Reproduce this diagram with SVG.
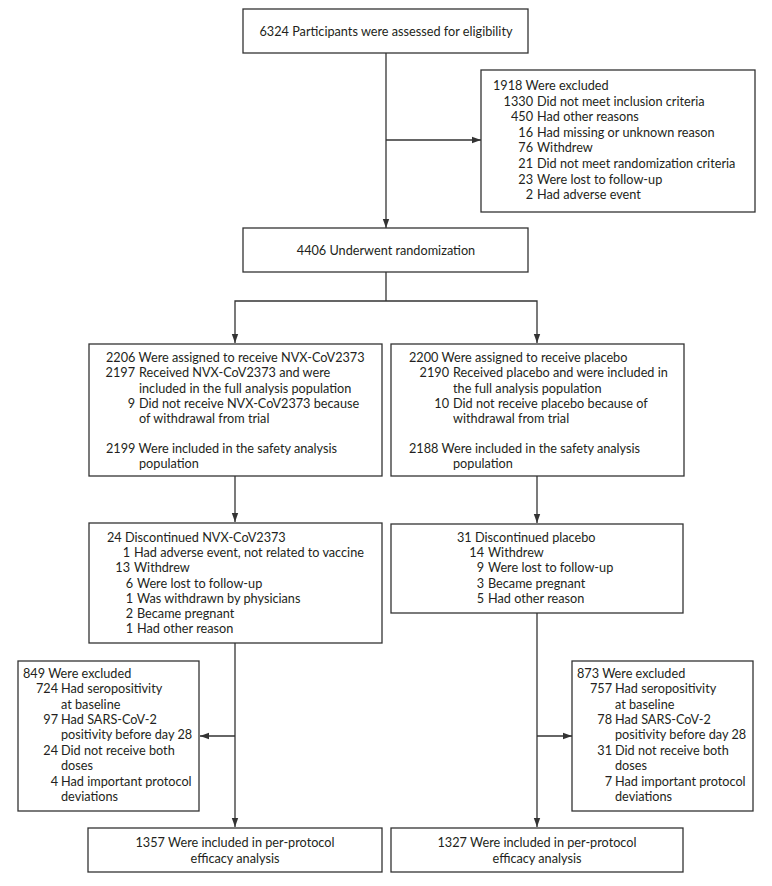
<svg xmlns="http://www.w3.org/2000/svg" width="772" height="886" viewBox="0 0 772 886">
<defs>
<style>
.box{fill:#ffffff;stroke:#333333;stroke-width:1.3}
.ln{fill:none;stroke:#333333;stroke-width:1.3}
text{font-family:Lato,"Open Sans","Liberation Sans",sans-serif;font-size:12.7px;fill:#231f20}
.c{text-anchor:middle}
.e{text-anchor:end}
</style>
<marker id="ah" markerUnits="userSpaceOnUse" markerWidth="10" markerHeight="8" refX="9" refY="4" orient="auto">
<path d="M0,0.8 L9,4 L0,7.2 Z" fill="#333333"/>
</marker>
</defs>
<rect width="772" height="886" fill="#ffffff"/>
<g id="connectors">
<path class="ln" d="M386,53 V228" marker-end="url(#ah)"/>
<path class="ln" d="M386,140 H481" marker-end="url(#ah)"/>
<path class="ln" d="M386,272 V301"/>
<path class="ln" d="M386,301 H235 V343" marker-end="url(#ah)"/>
<path class="ln" d="M386,301 H537 V343" marker-end="url(#ah)"/>
<path class="ln" d="M235,476 V522" marker-end="url(#ah)"/>
<path class="ln" d="M537,476 V523" marker-end="url(#ah)"/>
<path class="ln" d="M235,643 V827" marker-end="url(#ah)"/>
<path class="ln" d="M235,736 H200" marker-end="url(#ah)"/>
<path class="ln" d="M537,613 V827" marker-end="url(#ah)"/>
<path class="ln" d="M537,736 H572" marker-end="url(#ah)"/>
</g>
<g id="assessed">
<rect class="box" x="243" y="9" width="285" height="44"/>
<text class="c" x="386" y="36">6324 Participants were assessed for eligibility</text>
</g>
<g id="excluded1">
<rect class="box" x="481" y="70" width="274" height="142"/>
<text x="493" y="90">1918 Were excluded</text>
<text class="e" x="533" y="105.6">1330</text><text x="537" y="105.6">Did not meet inclusion criteria</text>
<text class="e" x="533" y="121.2">450</text><text x="537" y="121.2">Had other reasons</text>
<text class="e" x="533" y="136.8">16</text><text x="537" y="136.8">Had missing or unknown reason</text>
<text class="e" x="533" y="152.4">76</text><text x="537" y="152.4">Withdrew</text>
<text class="e" x="533" y="168">21</text><text x="537" y="168">Did not meet randomization criteria</text>
<text class="e" x="533" y="183.6">23</text><text x="537" y="183.6">Were lost to follow-up</text>
<text class="e" x="533" y="199.2">2</text><text x="537" y="199.2">Had adverse event</text>
</g>
<g id="randomization">
<rect class="box" x="243" y="228" width="285" height="44"/>
<text class="c" x="386" y="255">4406 Underwent randomization</text>
</g>
<g id="assigned-vaccine">
<rect class="box" x="89" y="344" width="293" height="132"/>
<text x="106" y="362">2206 Were assigned to receive NVX-CoV2373</text>
<text class="e" x="135" y="377">2197</text><text x="139" y="377">Received NVX-CoV2373 and were</text>
<text x="139" y="393">included in the full analysis population</text>
<text class="e" x="135" y="408">9</text><text x="139" y="408">Did not receive NVX-CoV2373 because</text>
<text x="139" y="423">of withdrawal from trial</text>
<text x="106" y="453">2199 Were included in the safety analysis</text>
<text x="139" y="468">population</text>
</g>
<g id="assigned-placebo">
<rect class="box" x="391" y="344" width="293" height="132"/>
<text x="409" y="362">2200 Were assigned to receive placebo</text>
<text class="e" x="449" y="377">2190</text><text x="453" y="377">Received placebo and were included in</text>
<text x="453" y="393">the full analysis population</text>
<text class="e" x="449" y="408">10</text><text x="453" y="408">Did not receive placebo because of</text>
<text x="453" y="423">withdrawal from trial</text>
<text x="409" y="453">2188 Were included in the safety analysis</text>
<text x="453" y="468">population</text>
</g>
<g id="discontinued-vaccine">
<rect class="box" x="89" y="523" width="293" height="120"/>
<text x="107" y="542">24 Discontinued NVX-CoV2373</text>
<text class="e" x="130" y="557">1</text><text x="134" y="557">Had adverse event, not related to vaccine</text>
<text class="e" x="130" y="572">13</text><text x="134" y="572">Withdrew</text>
<text class="e" x="133" y="588">6</text><text x="137" y="588">Were lost to follow-up</text>
<text class="e" x="133" y="603">1</text><text x="137" y="603">Was withdrawn by physicians</text>
<text class="e" x="133" y="618">2</text><text x="137" y="618">Became pregnant</text>
<text class="e" x="133" y="633">1</text><text x="137" y="633">Had other reason</text>
</g>
<g id="discontinued-placebo">
<rect class="box" x="391" y="524" width="292" height="89"/>
<text x="457" y="542">31 Discontinued placebo</text>
<text class="e" x="484" y="557">14</text><text x="488" y="557">Withdrew</text>
<text class="e" x="484" y="572">9</text><text x="488" y="572">Were lost to follow-up</text>
<text class="e" x="484" y="588">3</text><text x="488" y="588">Became pregnant</text>
<text class="e" x="484" y="603">5</text><text x="488" y="603">Had other reason</text>
</g>
<g id="excluded-vaccine">
<rect class="box" x="18" y="661" width="181" height="150"/>
<text x="23" y="678">849 Were excluded</text>
<text class="e" x="58" y="693">724</text><text x="61" y="693">Had seropositivity</text>
<text x="61" y="709">at baseline</text>
<text class="e" x="58" y="724">97</text><text x="61" y="724">Had SARS-CoV-2</text>
<text x="61" y="739">positivity before day 28</text>
<text class="e" x="58" y="755">24</text><text x="61" y="755">Did not receive both</text>
<text x="61" y="770">doses</text>
<text class="e" x="58" y="786">4</text><text x="61" y="786">Had important protocol</text>
<text x="61" y="801">deviations</text>
</g>
<g id="excluded-placebo">
<rect class="box" x="572" y="661" width="181" height="150"/>
<text x="577" y="678">873 Were excluded</text>
<text class="e" x="612" y="693">757</text><text x="615" y="693">Had seropositivity</text>
<text x="615" y="709">at baseline</text>
<text class="e" x="612" y="724">78</text><text x="615" y="724">Had SARS-CoV-2</text>
<text x="615" y="739">positivity before day 28</text>
<text class="e" x="612" y="755">31</text><text x="615" y="755">Did not receive both</text>
<text x="615" y="770">doses</text>
<text class="e" x="612" y="786">7</text><text x="615" y="786">Had important protocol</text>
<text x="615" y="801">deviations</text>
</g>
<g id="perprotocol-vaccine">
<rect class="box" x="88" y="828" width="294" height="44"/>
<text class="c" x="235" y="847">1357 Were included in per-protocol</text>
<text class="c" x="235" y="863">efficacy analysis</text>
</g>
<g id="perprotocol-placebo">
<rect class="box" x="391" y="828" width="292" height="44"/>
<text class="c" x="537" y="847">1327 Were included in per-protocol</text>
<text class="c" x="537" y="863">efficacy analysis</text>
</g>
</svg>
